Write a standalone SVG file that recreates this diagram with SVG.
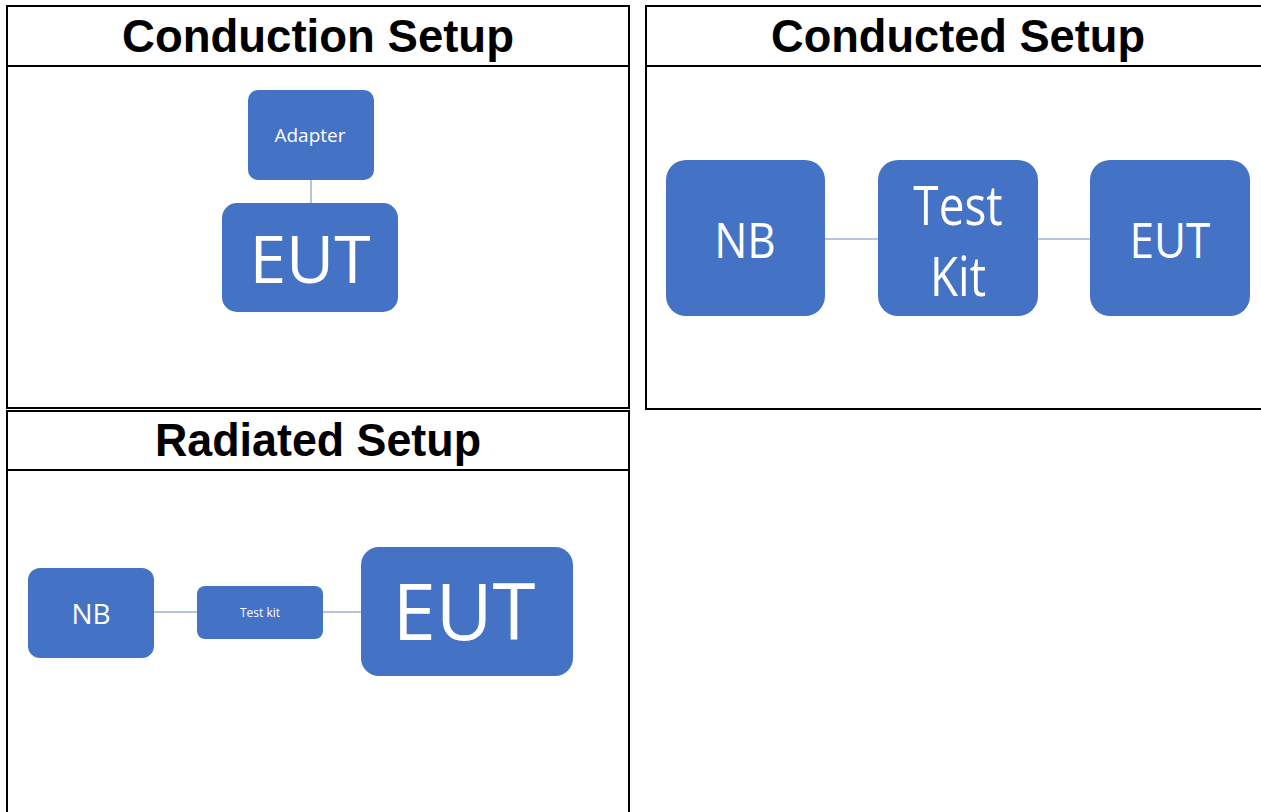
<svg xmlns="http://www.w3.org/2000/svg" width="1261" height="812" viewBox="0 0 1261 812">
<style>
.cell{fill:none;stroke:#000;stroke-width:2}
.title{font-family:"Liberation Sans",Arial,sans-serif;font-weight:bold;font-size:46px;fill:#000;text-anchor:middle}
.box{fill:#4472C4}
.lbl{font-family:"Open Sans","Noto Sans",sans-serif;fill:#fff;text-anchor:middle}
.con{stroke:#9fb1d4;stroke-width:1.5;fill:none}
</style>
<rect width="1261" height="812" fill="#fff"/>
<g id="frames">
<rect class="cell" x="7" y="6" width="622" height="402"/>
<line class="cell" x1="7" y1="66" x2="629" y2="66"/>
<rect class="cell" x="646" y="6" width="630" height="403"/>
<line class="cell" x1="646" y1="66" x2="1276" y2="66"/>
<rect class="cell" x="7" y="411" width="622" height="420"/>
<line class="cell" x1="7" y1="470" x2="629" y2="470"/>
</g>
<g id="titles">
<text class="title" x="318" y="52" textLength="392" lengthAdjust="spacingAndGlyphs">Conduction Setup</text>
<text class="title" x="958" y="52" textLength="374" lengthAdjust="spacingAndGlyphs">Conducted Setup</text>
<text class="title" x="318" y="456" textLength="326" lengthAdjust="spacingAndGlyphs">Radiated Setup</text>
</g>
<g id="connectors">
<line class="con" x1="311" y1="180" x2="311" y2="203"/>
<line class="con" x1="825" y1="239" x2="878" y2="239"/>
<line class="con" x1="1038" y1="239" x2="1090" y2="239"/>
<line class="con" x1="154" y1="612" x2="197" y2="612"/>
<line class="con" x1="323" y1="612" x2="361" y2="612"/>
</g>
<g id="cs-adapter">
<rect class="box" x="248" y="90" width="126" height="90" rx="10"/>
<text class="lbl" x="310" y="142" font-size="19">Adapter</text>
</g>
<g id="cs-eut">
<rect class="box" x="222" y="203" width="176" height="109" rx="15"/>
<text class="lbl" x="310" y="283" font-size="66">EUT</text>
</g>
<g id="cd-nb">
<rect class="box" x="666" y="160" width="159" height="156" rx="20"/>
<text class="lbl" x="745" y="258" font-size="50" transform="translate(745 0) scale(0.88 1) translate(-745 0)">NB</text>
</g>
<g id="cd-testkit">
<rect class="box" x="878" y="160" width="160" height="156" rx="20"/>
<text class="lbl" x="958" y="225" font-size="54" transform="translate(958 0) scale(0.85 1) translate(-958 0)">Test</text>
<text class="lbl" x="958" y="296" font-size="54" transform="translate(958 0) scale(0.85 1) translate(-958 0)">Kit</text>
</g>
<g id="cd-eut">
<rect class="box" x="1090" y="160" width="160" height="156" rx="20"/>
<text class="lbl" x="1170" y="258" font-size="50" transform="translate(1170 0) scale(0.88 1) translate(-1170 0)">EUT</text>
</g>
<g id="rd-nb">
<rect class="box" x="28" y="568" width="126" height="90" rx="12"/>
<text class="lbl" x="91" y="624" font-size="28">NB</text>
</g>
<g id="rd-testkit">
<rect class="box" x="197" y="586" width="126" height="53" rx="8"/>
<text class="lbl" x="260" y="617" font-size="12">Test kit</text>
</g>
<g id="rd-eut">
<rect class="box" x="361" y="547" width="212" height="129" rx="18"/>
<text class="lbl" x="464" y="640" font-size="78">EUT</text>
</g>
</svg>
